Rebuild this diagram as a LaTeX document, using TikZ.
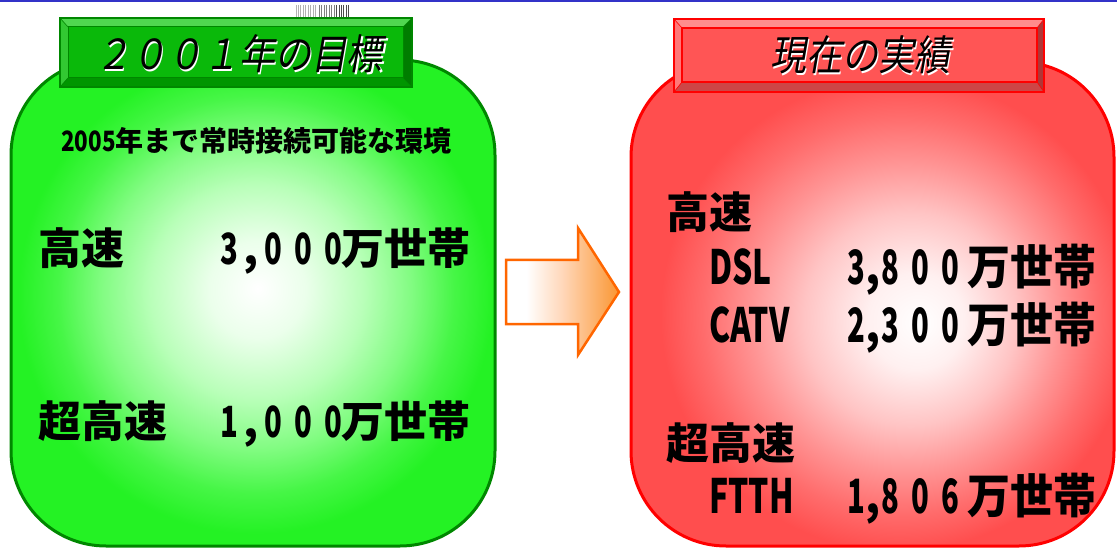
\documentclass[tikz,border=0pt]{standalone}
\usepackage{fontspec}
\usepackage{graphicx}
\newfontfamily\jp{Noto Sans CJK JP}
\newfontfamily\jpit{Noto Sans CJK JP}[FakeSlant=0.2]
\definecolor{topblue}{RGB}{50,50,200}
\definecolor{gbord}{RGB}{0,135,0}
\definecolor{gA}{RGB}{235,255,235}
\definecolor{gB}{RGB}{185,255,185}
\definecolor{gC}{RGB}{130,252,130}
\definecolor{gD}{RGB}{70,246,70}
\definecolor{gE}{RGB}{36,242,36}
\definecolor{rbord}{RGB}{255,0,0}
\definecolor{rA}{RGB}{255,240,240}
\definecolor{rB}{RGB}{255,196,196}
\definecolor{rC}{RGB}{255,148,148}
\definecolor{rD}{RGB}{255,108,108}
\definecolor{rE}{RGB}{255,78,78}
\definecolor{oA}{RGB}{255,215,185}
\definecolor{oB}{RGB}{250,150,50}
\definecolor{arrowline}{RGB}{255,102,0}
\definecolor{gface}{RGB}{10,185,10}
\definecolor{gtop}{RGB}{80,215,80}
\definecolor{gleft}{RGB}{50,200,50}
\definecolor{gright}{RGB}{0,125,0}
\definecolor{gbot}{RGB}{0,150,0}
\definecolor{rface}{RGB}{255,85,85}
\definecolor{rtop}{RGB}{255,140,140}
\definecolor{rleft}{RGB}{255,120,120}
\definecolor{rright}{RGB}{175,55,55}
\definecolor{rbot}{RGB}{205,70,70}
\pgfdeclareradialshading{gglow}{\pgfpoint{0.5bp}{1.5bp}}{color(0bp)=(white); color(5bp)=(gA); color(11bp)=(gB); color(16bp)=(gC); color(20.5bp)=(gD); color(24.5bp)=(gE); color(50bp)=(gE)}
\pgfdeclareradialshading{rglow}{\pgfpoint{5bp}{-2bp}}{color(0bp)=(white); color(5bp)=(rA); color(11bp)=(rB); color(16bp)=(rC); color(20.5bp)=(rD); color(24.5bp)=(rE); color(50bp)=(rE)}
\pgfdeclarehorizontalshading{arrowsh}{100bp}{color(0bp)=(white); color(34bp)=(white); color(50bp)=(oA); color(75bp)=(oB); color(100bp)=(oB)}
\newcommand\dg[1]{\makebox[30pt]{\scalebox{0.68}[1]{#1}}}
\newcommand\cma[1]{\makebox[#1]{,}}
\tikzset{
  big/.style={inner sep=0pt, anchor=base west, font=\jp\bfseries\fontsize{43}{46}\selectfont},
  subt/.style={inner sep=0pt, anchor=base west, font=\jp\bfseries\fontsize{28}{30}\selectfont},
  ttl/.style={inner sep=0pt, anchor=base, font=\jpit\fontsize{36}{40}\selectfont},
}
\begin{document}
\begin{tikzpicture}[x=1pt,y=-1pt]
\useasboundingbox (0,0) rectangle (1117,548);
\fill[topblue] (0,0) rectangle (1117,1.6);
% small bar pattern
\foreach \x in {296,298.3,300.7,303.3,305.7,308,310.7,313,315.3}
  \draw[line width=0.8pt, black!30] (\x,5) -- (\x,19);
\foreach \x in {319.3,321.7,324,326.7,329,331.7,334}
  \draw[line width=0.8pt, black!50] (\x,5) -- (\x,19);
\foreach \x in {336.3,339,341.3,343.7,346,348.3}
  \draw[line width=0.8pt, black!70] (\x,5) -- (\x,19);
% green box
\path[draw=gbord, line width=3pt, shade, shading=gglow, rounded corners=95pt] (11,60) rectangle (495,546);
% red box
\path[draw=rbord, line width=3pt, shade, shading=rglow, rounded corners=95pt] (631,62) rectangle (1114,546);
% arrow
\path[draw=arrowline, line width=2.5pt, shade, shading=arrowsh, line join=miter]
  (506,260) -- (578,260) -- (578,228) -- (619,292) -- (578,355) -- (578,324) -- (506,324) -- cycle;
% green banner
\fill[gface] (68,27) rectangle (403,78);
\fill[gtop] (60,18) -- (412,18) -- (403,27) -- (68,27) -- cycle;
\fill[gleft] (60,18) -- (68,27) -- (68,78) -- (60,87) -- cycle;
\fill[gright] (412,18) -- (412,87) -- (403,78) -- (403,27) -- cycle;
\fill[gbot] (60,87) -- (412,87) -- (403,78) -- (68,78) -- cycle;
\draw[gbord, line width=0.6pt] (60,18) -- (68,27) (412,18) -- (403,27) (60,87) -- (68,78) (412,87) -- (403,78);
\draw[gbord, line width=1pt] (68,27) rectangle (403,78);
\draw[gbord, line width=2pt] (60,18) rectangle (412,87);
% red banner
\fill[rface] (682,28) rectangle (1037,82);
\fill[rtop] (674,19) -- (1044,19) -- (1037,28) -- (682,28) -- cycle;
\fill[rleft] (674,19) -- (682,28) -- (682,82) -- (674,92) -- cycle;
\fill[rright] (1044,19) -- (1044,92) -- (1037,82) -- (1037,28) -- cycle;
\fill[rbot] (674,92) -- (1044,92) -- (1037,82) -- (682,82) -- cycle;
\draw[rbord, line width=0.6pt] (674,19) -- (682,28) (1044,19) -- (1037,28) (674,92) -- (682,82) (1044,92) -- (1037,82);
\draw[rbord, line width=1.2pt] (682,28) rectangle (1037,82);
\draw[rbord, line width=2pt] (674,19) rectangle (1044,92);
% titles
\node[ttl, text=white] (gtitleS) at (240.5,71.5) {\scalebox{1}[1.15]{２００１年の目標}};
\node[ttl] (gtitle) at (239,70) {\scalebox{1}[1.15]{２００１年の目標}};
\node[ttl, text=white] (rtitleS) at (861.5,72.5) {\scalebox{1}[1.15]{現在の実績}};
\node[ttl] (rtitle) at (860,71) {\scalebox{1}[1.15]{現在の実績}};
% green texts
\node[subt] (gsub) at (61,152) {\scalebox{0.8}[1]{2005}年まで常時接続可能な環境};
\node[big] (g1k) at (38,265) {高速};
\node[big] (g1n) at (214,265) {\dg{3}\cma{14pt}\dg{0}\dg{0}\dg{0}};
\node[big] (g1u) at (341,265) {万世帯};
\node[big] (g2k) at (38,437) {超高速};
\node[big] (g2n) at (214,437) {\dg{1}\cma{14pt}\dg{0}\dg{0}\dg{0}};
\node[big] (g2u) at (341,437) {万世帯};
% red texts
\node[big] (r1k) at (666,229) {高速};
\node[big] (r1a) at (709,285) {\scalebox{0.74}[1.1]{DSL}};
\node[big] (r1n) at (841,285) {\scalebox{1}[1.1]{\dg{3}\cma{4pt}\dg{8}\dg{0}\dg{0}}};
\node[big] (r1u) at (967,285) {\scalebox{1}[1.1]{万世帯}};
\node[big] (r2a) at (709,342) {\scalebox{0.74}[1.1]{CATV}};
\node[big] (r2n) at (841,342) {\scalebox{1}[1.1]{\dg{2}\cma{4pt}\dg{3}\dg{0}\dg{0}}};
\node[big] (r2u) at (967,342) {\scalebox{1}[1.1]{万世帯}};
\node[big] (r3k) at (666,459) {超高速};
\node[big] (r3a) at (709,513) {\scalebox{0.74}[1.1]{FTTH}};
\node[big] (r3n) at (841,513) {\scalebox{1}[1.1]{\dg{1}\cma{4pt}\dg{8}\dg{0}\dg{6}}};
\node[big] (r3u) at (967,513) {\scalebox{1}[1.1]{万世帯}};
\end{tikzpicture}
\end{document}
